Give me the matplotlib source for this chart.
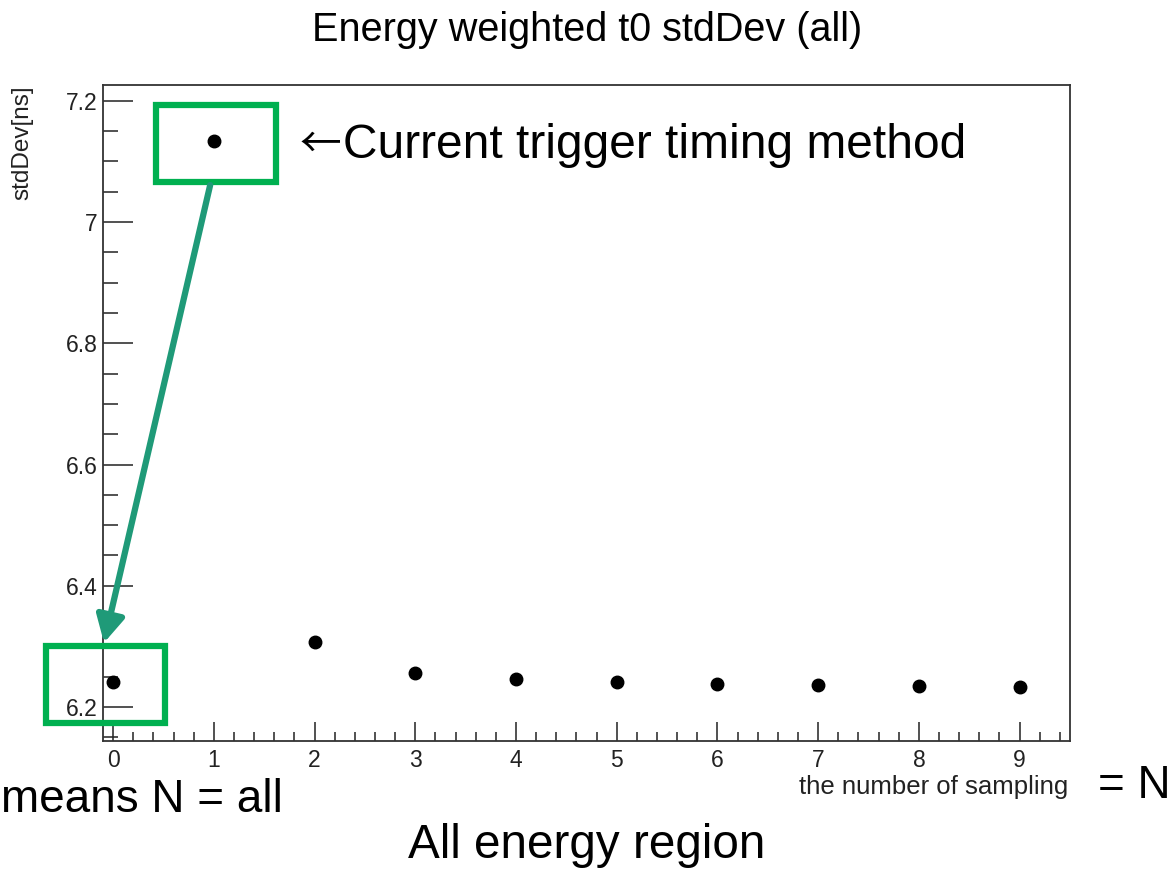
import matplotlib
matplotlib.use("Agg")
import matplotlib.pyplot as plt
from matplotlib.patches import Rectangle
from matplotlib.ticker import MultipleLocator

plt.rcParams["font.family"] = ["Liberation Sans", "DejaVu Sans"]

# values
n_sampling = [0, 1, 2, 3, 4, 5, 6, 7, 8, 9]
std_dev = [6.241, 7.134, 6.307, 6.256, 6.246, 6.241, 6.238, 6.236, 6.235, 6.233]

title = "Energy weighted t0 stdDev (all)"
xlabel = "the number of sampling"
ylabel = "stdDev[ns]"

GREEN = "#00b050"
TEAL = "#1f9a78"

fig = plt.figure(figsize=(11.71, 8.71), dpi=100)
ax = fig.add_axes([103 / 1171, 1 - 741 / 871, 967 / 1171, 656 / 871])

ax.plot(n_sampling, std_dev, "o", color="black", markersize=9, linestyle="none")

ax.set_xlim(-0.1, 9.5)
ax.set_ylim(6.144, 7.226)
ax.xaxis.set_major_locator(MultipleLocator(1))
ax.xaxis.set_minor_locator(MultipleLocator(0.2))
ax.yaxis.set_major_locator(MultipleLocator(0.2))
ax.yaxis.set_minor_locator(MultipleLocator(0.05))
ax.yaxis.set_major_formatter(plt.FuncFormatter(lambda v, p: f"{v:g}"))

ax.tick_params(axis="both", which="both", direction="in", color="#222222",
               labelsize=16.5, labelcolor="#222222", width=1.1)
ax.tick_params(axis="x", which="major", length=13.5, pad=6)
ax.tick_params(axis="x", which="minor", length=6.5)
ax.tick_params(axis="y", which="major", length=21.5, pad=4)
ax.tick_params(axis="y", which="minor", length=10.8)
for spine in ax.spines.values():
    spine.set_linewidth(1.3)
    spine.set_color("#333333")

fig.text(587 / 1171, 1 - 30 / 871, title, ha="center", va="center", fontsize=28.5)
fig.text(1068 / 1171, 1 - 787 / 871, xlabel, ha="right", va="center", fontsize=18.5,
         color="#222222")
fig.text(22 / 1171, 1 - 85 / 871, ylabel, ha="center", va="top", rotation=90,
         fontsize=17.5, color="#222222")

# highlight boxes and arrow (slide annotations)
ax.add_patch(Rectangle((0.43, 7.066), 1.19, 0.127, fill=False, edgecolor=GREEN,
                       linewidth=4.5, clip_on=False, zorder=5))
ax.add_patch(Rectangle((-0.666, 6.174), 1.183, 0.127, fill=False, edgecolor=GREEN,
                       linewidth=4.5, clip_on=False, zorder=5))
ax.annotate("", xy=(-0.09, 6.306), xytext=(0.964, 7.061),
            arrowprops=dict(arrowstyle="-|>,head_length=1.6,head_width=0.85",
                            color=TEAL, linewidth=4.5, shrinkA=0, shrinkB=0),
            annotation_clip=False, zorder=6)

fig.text(300 / 1171, 1 - 145 / 871, "\u2190", ha="left", va="center", fontsize=30,
         family=["Noto Sans CJK JP", "DejaVu Sans"])
fig.text(343 / 1171, 1 - 145 / 871, "Current trigger timing method",
         ha="left", va="center", fontsize=34.5)
fig.text(283 / 1171, 1 - 800 / 871, "means N = all", ha="right", va="center", fontsize=33)
fig.text(1098 / 1171, 1 - 786 / 871, "= N", ha="left", va="center", fontsize=33)
fig.text(587 / 1171, 1 - 845 / 871, "All energy region", ha="center", va="center",
         fontsize=34.3)

fig.savefig("out.png", dpi=100)
